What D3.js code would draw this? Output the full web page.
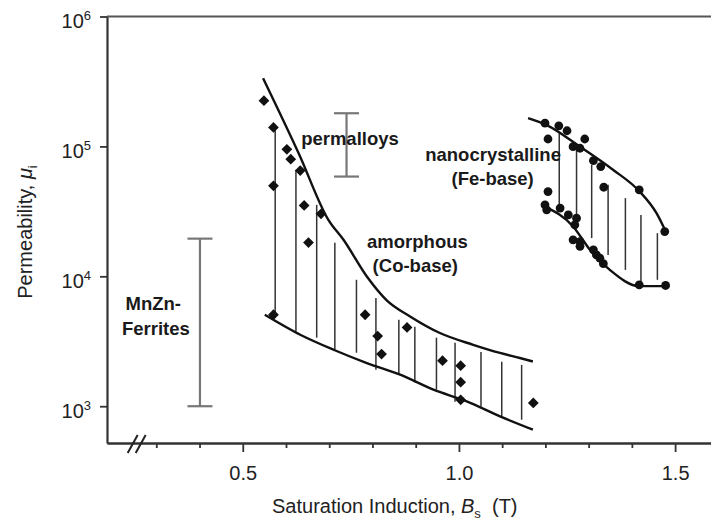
<!DOCTYPE html>
<html>
<head>
<meta charset="utf-8">
<title>permeability vs saturation induction</title>
<script src="https://cdn.jsdelivr.net/npm/d3@7"></script>
<style>
  body{margin:0;background:#fff;}
  svg{display:block;font-family:"Liberation Sans",Arial,sans-serif;}
  .lbl{font-weight:bold;font-size:18.5px;fill:#1a1a1a;text-anchor:middle;}
  .tk{font-size:20px;fill:#222;}
</style>
</head>
<body>
<div id="chart"></div>
<script>
// ---- data (Bs in T, permeability mu_i) ----
var amorphUpper = [[0.547,335000],[0.630,87500],[0.698,27200],[0.733,19100],[0.787,9960],[0.833,6530],
                   [0.887,4910],[0.956,3660],[1.033,2970],[1.095,2570],[1.141,2350],[1.171,2210]];
var amorphLower = [[0.551,5060],[0.633,3550],[0.710,2720],[0.787,2150],[0.864,1750],[0.941,1340],
                   [1.018,1090],[1.095,835],[1.171,660]];
// vertical hatch: [Bs, top, bottom]
var amorphHatch = [[0.575,141000,5000],[0.623,65900,3760],[0.671,35500,3370],[0.713,18100,2720],
                   [0.763,9400,2580],[0.808,6800,1910],[0.861,4630,1750],[0.898,4090,1520],
                   [0.948,3370,1340],[0.991,3080,1080],[1.051,2620,990],[1.099,2200,830],[1.145,2080,787]];
var amorphPts = [[0.549,225000],[0.571,140000],[0.602,95000],[0.611,79800],[0.633,65200],[0.571,49700],
                 [0.642,35100],[0.681,30300],[0.652,18200],[0.571,5060],[0.783,5060],[0.812,3470],
                 [0.821,2520],[0.880,4040],[0.962,2240],[1.004,2050],[1.004,1530],[1.004,1120],[1.172,1060]];

var nanoUpper = [[1.160,165000],[1.203,146000],[1.280,99600],[1.357,65900],[1.418,44900],[1.457,30600],[1.480,21500]];
var nanoLower = [[1.199,34400],[1.264,24200],[1.303,16000],[1.349,11200],[1.418,8400],[1.478,8400]];
var nanoHatch = [[1.232,126000,34400],[1.272,96900,27200],[1.307,72100,19700],[1.345,50600,14600],
                 [1.385,40000,11200],[1.421,29700,9120],[1.459,21500,9400]];
var nanoPts = [[1.199,151000],[1.231,144000],[1.250,132000],[1.206,114000],[1.264,99600],[1.291,114000],
               [1.280,96800],[1.311,77800],[1.328,70000],[1.335,48500],[1.417,46300],[1.476,22100],
               [1.206,44900],[1.199,35500],[1.203,32500],[1.234,33500],[1.253,29700],[1.272,28000],
               [1.268,24900],[1.264,19100],[1.280,18500],[1.280,17000],[1.311,16000],[1.318,14600],
               [1.326,13800],[1.334,12500],[1.417,8600],[1.478,8500]];

// range bars: [Bs, low, high]
var rangeBars = [[0.740,58600,180000],[0.401,1000,19500]];

var labels = [["permalloys",0.748,102700],["nanocrystalline",1.079,77300],["(Fe-base)",1.078,50600],
              ["amorphous",0.904,16600],["(Co-base)",0.899,10800],["MnZn-",0.293,5530],["Ferrites",0.299,3550]];

var xMajor = [0.5,1.0,1.5];
var xMinor = [0.3,0.4,0.6,0.7,0.8,0.9,1.1,1.2,1.3,1.4];
var yMajor = [1e3,1e4,1e5,1e6];
var yExp = ["3","4","5","6"];
var yMinor = [];
[100,1000,10000,100000].forEach(function(b){ for(var k=2;k<10;k++){ if(b*k>=521) yMinor.push(b*k); } });

// ---- chart ----
var W = 711, H = 527;
var svg = d3.select("#chart").append("svg").attr("width",W).attr("height",H);

var x = d3.scaleLinear().domain([0.186,1.583]).range([107,711]);
var y = d3.scaleLog().domain([521,1e6]).range([443,16.5]);
var y0 = y.range()[0];

var line = d3.line().x(function(d){return x(d[0]);}).y(function(d){return y(d[1]);}).curve(d3.curveMonotoneX);

// hatching
svg.append("g").selectAll("line").data(amorphHatch.concat(nanoHatch)).enter().append("line")
  .attr("x1",function(d){return x(d[0]);}).attr("x2",function(d){return x(d[0]);})
  .attr("y1",function(d){return y(d[1]);}).attr("y2",function(d){return y(d[2]);})
  .attr("stroke","#333").attr("stroke-width",1.5);

// band boundaries
[amorphUpper,amorphLower,nanoUpper,nanoLower].forEach(function(c){
  svg.append("path").datum(c).attr("d",line).attr("fill","none")
    .attr("stroke","#111").attr("stroke-width",2.4);
});

// range bars
var rb = svg.append("g").attr("stroke","#777").attr("stroke-width",2.2);
rangeBars.forEach(function(d){
  rb.append("line").attr("x1",x(d[0])).attr("x2",x(d[0])).attr("y1",y(d[1])).attr("y2",y(d[2]));
  [d[1],d[2]].forEach(function(v){
    rb.append("line").attr("x1",x(d[0])-12.5).attr("x2",x(d[0])+12.5).attr("y1",y(v)).attr("y2",y(v));
  });
});

// points
svg.append("g").selectAll("path").data(amorphPts).enter().append("path")
  .attr("d",d3.symbol().type(d3.symbolSquare).size(58))
  .attr("transform",function(d){return "translate("+x(d[0])+","+y(d[1])+") rotate(45)";})
  .attr("fill","#111");
svg.append("g").selectAll("circle").data(nanoPts).enter().append("circle")
  .attr("cx",function(d){return x(d[0]);}).attr("cy",function(d){return y(d[1]);})
  .attr("r",4.4).attr("fill","#111");

// labels
svg.append("g").selectAll("text").data(labels).enter().append("text")
  .attr("class","lbl").attr("x",function(d){return x(d[1]);}).attr("y",function(d){return y(d[2]);})
  .text(function(d){return d[0];});

// x axis
var gx = svg.append("g").attr("transform","translate(0,"+y0+")");
gx.call(d3.axisBottom(x).tickValues(xMinor).tickSize(5).tickSizeOuter(0).tickFormat(""));
var gx2 = svg.append("g").attr("transform","translate(0,"+y0+")");
gx2.call(d3.axisBottom(x).tickValues(xMajor).tickSize(9).tickSizeOuter(0).tickPadding(14)
  .tickFormat(d3.format(".1f")));
gx2.selectAll("text").attr("class","tk").attr("font-size",null).attr("font-family",null);

// y axis
var gy = svg.append("g").attr("transform","translate(107,0)");
gy.call(d3.axisLeft(y).tickValues(yMinor).tickSize(4).tickSizeOuter(0).tickFormat(""));
gy.call(d3.axisLeft(y).tickValues(yMajor).tickSize(7).tickSizeOuter(0).tickFormat(""));

svg.selectAll(".domain").attr("stroke","#333").attr("stroke-width",2.2);
svg.selectAll(".tick line").attr("stroke","#333").attr("stroke-width",1.8);

// top frame line
svg.append("line").attr("x1",x.range()[0]).attr("x2",x.range()[1]).attr("y1",y(1e6)).attr("y2",y(1e6))
  .attr("stroke","#555").attr("stroke-width",2.2);

// y tick labels 10^n
var yl = svg.append("g").selectAll("text").data(yMajor).enter().append("text")
  .attr("class","tk").attr("text-anchor","end")
  .attr("x",91).attr("y",function(d){return y(d)+11.5;});
yl.append("tspan").text("10");
yl.append("tspan").attr("font-size","13px").attr("dy",-8).text(function(d,i){return yExp[i];});

// axis break on x
var bx = x(0.25);
[0,8].forEach(function(o){
  svg.append("line").attr("x1",bx-7+o).attr("y1",y0+10).attr("x2",bx+3+o).attr("y2",y0-8)
    .attr("stroke","#222").attr("stroke-width",2);
});

// axis titles
var xt = svg.append("text").attr("class","tk").attr("font-size","22px")
  .attr("x",272).attr("y",513);
xt.append("tspan").text("Saturation Induction, ");
xt.append("tspan").attr("font-style","italic").text("B");
xt.append("tspan").attr("font-size","13px").attr("dy",5).text("s");
xt.append("tspan").attr("dy",-5).text("\u00a0 (T)");

var yt = svg.append("text").attr("class","tk").attr("font-size","21px").attr("text-anchor","middle")
  .attr("transform","translate(32,232) rotate(-90)");
yt.append("tspan").text("Permeability, ");
yt.append("tspan").attr("font-style","italic").text("\u03bc");
yt.append("tspan").attr("font-size","13px").attr("dy",5).text("i");
</script>
</body>
</html>
